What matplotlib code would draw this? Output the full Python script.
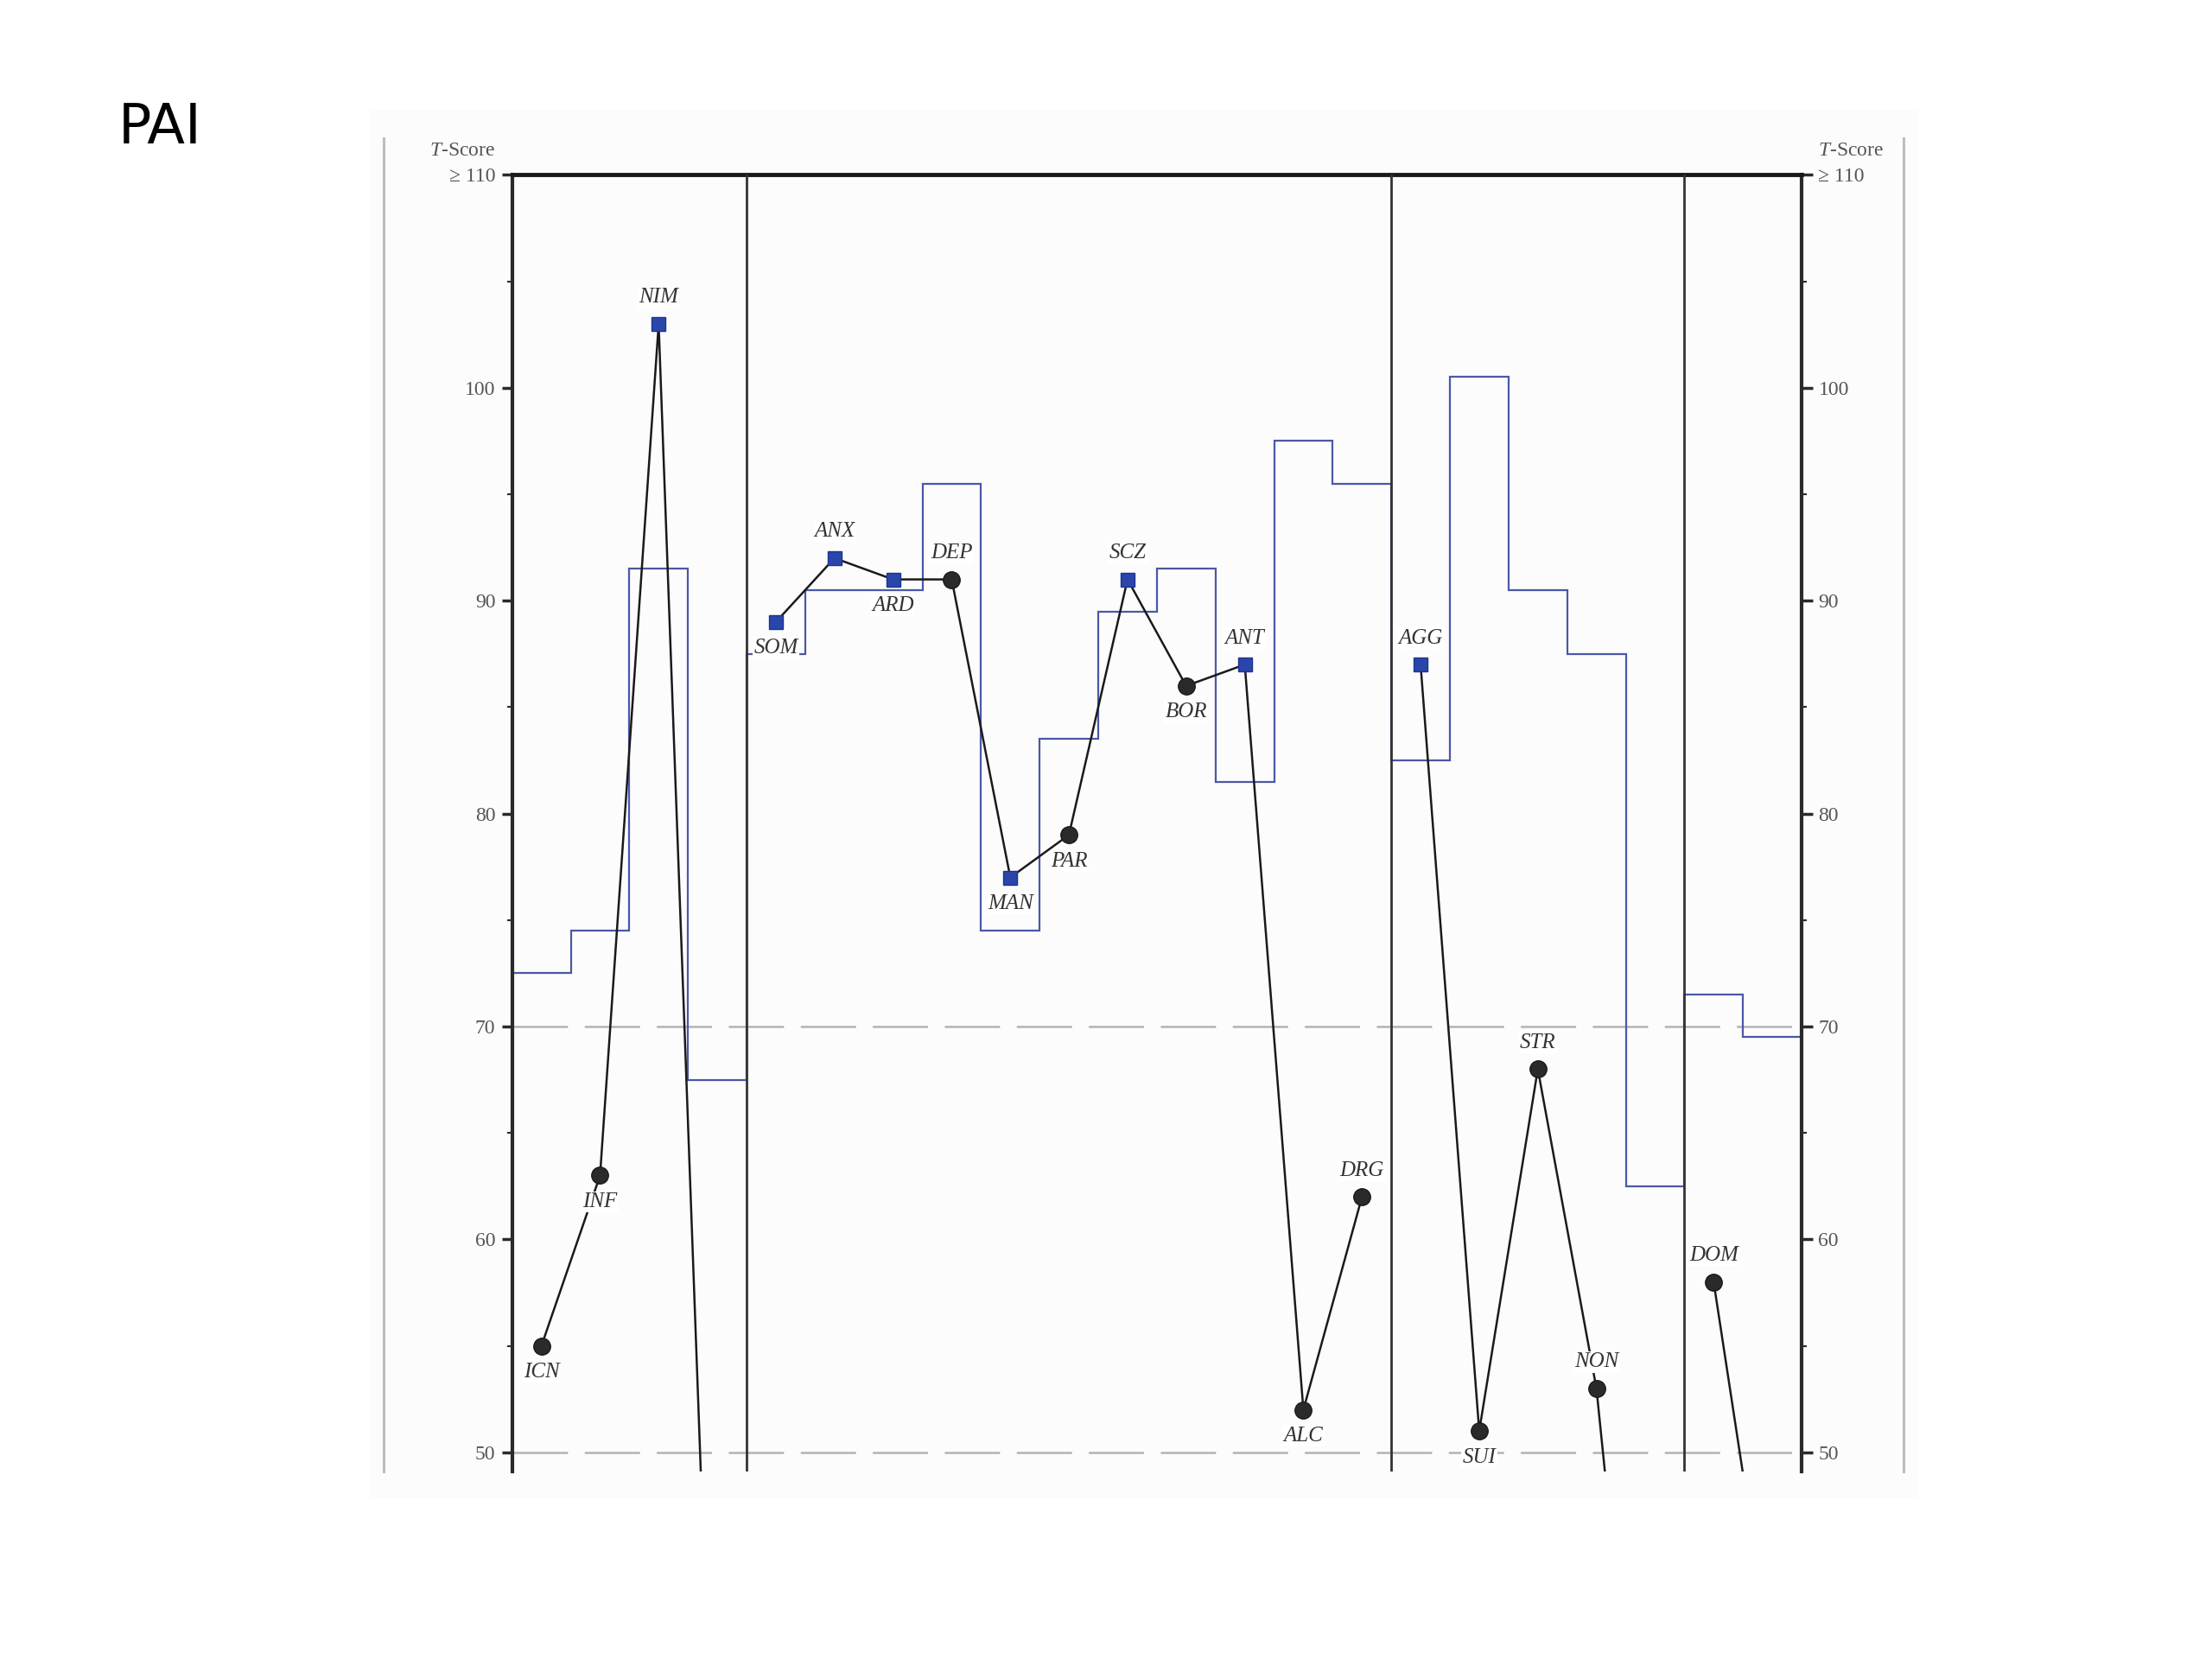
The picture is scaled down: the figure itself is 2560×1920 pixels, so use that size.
import numpy as np
import matplotlib.pyplot as plt
from matplotlib.lines import Line2D
from matplotlib.patches import Rectangle

# PAI scales, left to right (RXR, PIM and WRM fall below the plotted range)
scales = ['ICN', 'INF', 'NIM', 'PIM', 'SOM', 'ANX', 'ARD', 'DEP', 'MAN', 'PAR', 'SCZ',
          'BOR', 'ANT', 'ALC', 'DRG', 'AGG', 'SUI', 'STR', 'NON', 'RXR', 'DOM', 'WRM']
t_scores = [55, 63, 103, 28, 89, 92, 91, 91, 77, 79, 91,
            86, 87, 52, 62, 87, 51, 68, 53, 26, 58, 40]
point_kind = ['o', 'o', 's', 'o', 's', 's', 's', 'o', 's', 'o', 's',
              'o', 's', 'o', 'o', 's', 'o', 'o', 'o', 'o', 'o', 'o']
label_side = ['below', 'below', 'above', None, 'below', 'above', 'below', 'above', 'below', 'below', 'above',
              'below', 'above', 'below', 'above', 'above', 'below', 'above', 'above', None, 'above', None]
# blue step profile
step_scores = [72.5, 74.5, 91.5, 67.5, 87.5, 90.5, 90.5, 95.5, 74.5, 83.5, 89.5,
               91.5, 81.5, 97.5, 95.5, 82.5, 100.5, 90.5, 87.5, 62.5, 71.5, 69.5]
section_sizes = [4, 11, 5, 2]

major_ticks = [50, 60, 70, 80, 90, 100, 110]
major_labels = ['50', '60', '70', '80', '90', '100', '\u2265 110']
minor_ticks = [55, 65, 75, 85, 95, 105]

plt.rcParams['lines.scale_dashes'] = False
plt.rcParams['mathtext.fontset'] = 'custom'
plt.rcParams['mathtext.it'] = 'Liberation Serif:italic'
plt.rcParams['mathtext.rm'] = 'Liberation Serif'
serif = ['Liberation Serif', 'DejaVu Serif']

W, H = 2560, 1920
fig = plt.figure(figsize=(W / 100, H / 100), dpi=100)

# scanned page background + its grey side rules
fig.add_artist(Rectangle((428 / W, 1 - 1734 / H), (2221 - 428) / W, (1734 - 127) / H,
                         transform=fig.transFigure, facecolor='#fcfcfc', edgecolor='none', zorder=-5))
for px in (444, 2203):
    fig.add_artist(Line2D([px / W, px / W], [1 - 160 / H, 1 - 1703 / H], transform=fig.transFigure,
                          color='#bdbdbd', lw=2.2))

fig.text(137 / W, 1 - 166 / H, 'PAI', fontsize=46, family='DejaVu Sans', ha='left', va='baseline')

ax = fig.add_axes([592.7 / W, 1 - 1703 / H, (2085 - 592.7) / W, (1703 - 202.4) / H])
ax.set_facecolor('none')
n = len(scales)
ax.set_xlim(0, n)
ax.set_ylim(49.1, 110)

x = np.arange(n) + 0.5
y = np.array(t_scores, dtype=float)

# reference lines
for lvl in (70, 50):
    ax.axhline(lvl, color='#b3b3b3', lw=1.8, dashes=(46, 14), zorder=1)

ax.stairs(step_scores, np.arange(n + 1), baseline=None, color='#4a58a8', lw=1.6, zorder=2)

bounds = np.cumsum(section_sizes)
for b in bounds[:-1]:
    ax.axvline(b, color='#333333', lw=2.0, zorder=3)

# profile lines per section
start = 0
for size in section_sizes:
    ax.plot(x[start:start + size], y[start:start + size], color='#1a1a1a', lw=1.8, zorder=4)
    start += size

for xi, yi, k in zip(x, y, point_kind):
    if k == 's':
        ax.plot(xi, yi, 's', ms=12, mfc='#2a46aa', mec='#1d3390', mew=1.0, zorder=5)
    else:
        ax.plot(xi, yi, 'o', ms=14, mfc='#2a2a2a', mec='#1a1a1a', zorder=5)

for xi, yi, name, side in zip(x, y, scales, label_side):
    if side is None:
        continue
    off = 22 if side == 'above' else -22
    ax.annotate(name, (xi, yi), xytext=(0, off), textcoords='offset points', ha='center', va='center',
                fontsize=18, style='italic', family=serif, color='#333333', zorder=6,
                bbox=dict(boxstyle='square,pad=0.05', fc='white', ec='none'))

for side in ('left', 'right'):
    ax.spines[side].set_linewidth(3)
    ax.spines[side].set_color('#2a2a2a')
ax.spines['top'].set_linewidth(3.5)
ax.spines['top'].set_color('#1a1a1a')
ax.spines['bottom'].set_visible(False)

ax.set_xticks([])
ax.set_yticks(major_ticks)
ax.set_yticklabels(major_labels, family=serif, fontsize=17, color='#555555')
ax.set_yticks(minor_ticks, minor=True)
ax.tick_params(axis='y', which='both', direction='out', left=True, right=True,
               labelleft=True, labelright=True, color='#2a2a2a')
ax.tick_params(axis='y', which='major', length=9, width=2.5, pad=5)
ax.tick_params(axis='y', which='minor', length=4, width=1.5)

for xa, ha, sign in ((0, 'right', -1), (1, 'left', 1)):
    ax.annotate(r'$T$-Score', (xa, 110), xycoords=('axes fraction', 'data'),
                xytext=(sign * 14, 20), textcoords='offset points', ha=ha, va='center',
                fontsize=17, family=serif, color='#555555')

fig.savefig('out.png', dpi=100, facecolor='white')
